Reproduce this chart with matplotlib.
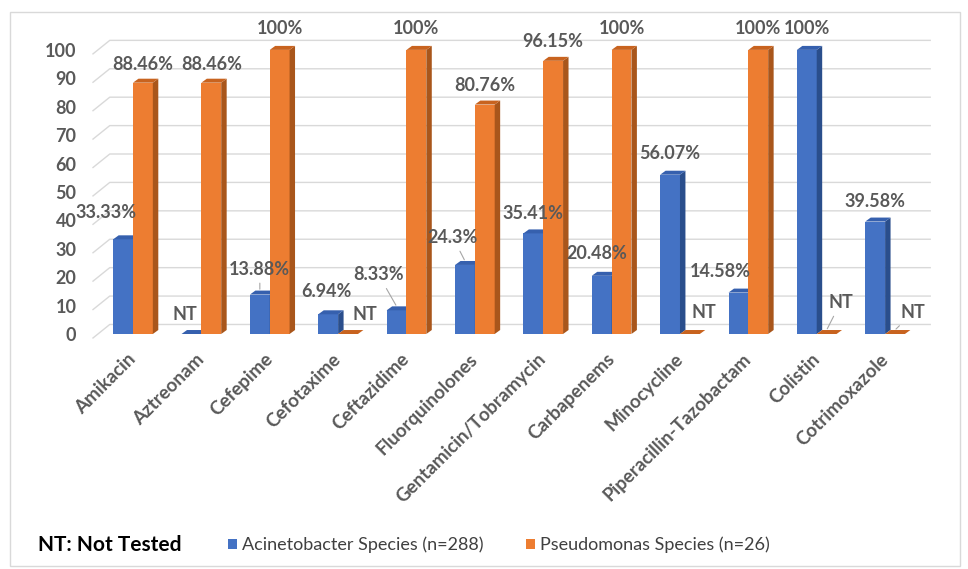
import numpy as np
import matplotlib
matplotlib.use("Agg")
import matplotlib.pyplot as plt
from matplotlib.collections import PolyCollection
from matplotlib.patches import Rectangle
from matplotlib.transforms import ScaledTranslation

plt.rcParams['font.family'] = ['Lato', 'DejaVu Sans']

# data (NaN = not tested)
antibiotics = ["Amikacin", "Aztreonam", "Cefepime", "Cefotaxime", "Ceftazidime",
               "Fluorquinolones", "Gentamicin/Tobramycin", "Carbapenems",
               "Minocycline", "Piperacillin-Tazobactam", "Colistin", "Cotrimoxazole"]
acinetobacter = [33.33, np.nan, 13.88, 6.94, 8.33, 24.3, 35.41, 20.48, 56.07, 14.58, 100, 39.58]
pseudomonas = [88.46, 88.46, 100, np.nan, 100, 80.76, 96.15, 100, np.nan, 100, np.nan, np.nan]
series_names = ["Acinetobacter Species (n=288)", "Pseudomonas Species (n=26)"]
yticks = [0, 10, 20, 30, 40, 50, 60, 70, 80, 90, 100]

# label offsets in pixels (dx, dy) from the top of each bar, and leader lines
blue_off = [(-17, 17), (-7, 10), (0, 16), (-2, 13), (-18, 26), (-12, 18),
            (0, 10), (-5, 13), (0, 12), (-18, 12), (0, 12), (0, 11)]
orange_off = [(0, 9), (0, 9), (0, 12), (17, 10), (0, 12), (0, 10),
              (0, 10), (0, 12), (14, 12), (0, 12), (14, 22), (18, 12)]
blue_lead = [False, False, True, False, True, True, False, False, False, False, False, False]
orange_lead = [False, False, False, False, False, False, False, False, False, False, True, True]

BLUE = ("#4472C4", "#2A4E8C", "#3660AE")
ORANGE = ("#ED7D31", "#A9561B", "#C8631F")
TXT = "#595959"


def draw_bars(ax, xs, vals, w, cols, z, dx, dy):
    h = np.nan_to_num(np.array(vals, dtype=float))
    ax.bar(xs, h, w, color=cols[0], zorder=z, linewidth=0)
    sides, tops = [], []
    for x, v in zip(xs, h):
        r = x + w / 2
        l = x - w / 2
        sides.append([(r, 0), (r + dx, dy), (r + dx, v + dy), (r, v)])
        tops.append([(l, v), (r, v), (r + dx, v + dy), (l + dx, v + dy)])
    ax.add_collection(PolyCollection(sides, facecolors=cols[1], edgecolors='none', zorder=z))
    ax.add_collection(PolyCollection(tops, facecolors=cols[2], edgecolors='none', zorder=z))
    return h


def label_bars(ax, xs, vals, h, offs, leads, dy):
    for x, v, hh, (ox, oy), lead in zip(xs, vals, h, offs, leads):
        txt = "NT" if np.isnan(v) else f"{v:g}%"
        ax.annotate(txt, xy=(x, hh + dy), xytext=(ox, oy), textcoords='offset pixels',
                    ha='center', va='baseline', fontsize=13, fontweight='bold',
                    color=TXT, zorder=10, annotation_clip=False,
                    arrowprops=dict(arrowstyle='-', color='#A6A6A6', lw=0.8,
                                    shrinkA=2, shrinkB=1) if lead else None)


def main():
    fig = plt.figure(figsize=(9.68, 5.69), dpi=100)
    ax = fig.add_axes([93 / 968, 1 - 348.2 / 569, (935 - 93) / 968, (348.2 - 30) / 569])

    x = np.arange(len(antibiotics))
    w = 0.29
    dx, dy = 0.08, 1.4
    ax.set_xlim(-0.585, 11.73)
    ax.set_ylim(-5, 107)

    # back wall gridlines with slanted left part
    for t in yticks:
        ax.plot([-0.585, -0.34, 11.66], [t - 1.4, t + 3.35, t + 3.35],
                color="#D9D9D9", lw=1, zorder=0, clip_on=False)

    hb = draw_bars(ax, x - w / 2, acinetobacter, w, BLUE, 2, dx, dy)
    ho = draw_bars(ax, x + w / 2, pseudomonas, w, ORANGE, 3, dx, dy)
    label_bars(ax, x - w / 2, acinetobacter, hb, blue_off, blue_lead, dy)
    label_bars(ax, x + w / 2, pseudomonas, ho, orange_off, orange_lead, dy)

    ax.set_yticks(yticks)
    ax.set_yticklabels([str(t) for t in yticks], fontsize=13, fontweight='bold', color=TXT)
    for lab in ax.get_yticklabels():
        lab.set_transform(lab.get_transform() + ScaledTranslation(0, -4 / 100, fig.dpi_scale_trans))
    ax.set_xticks(x)
    ax.set_xticklabels(antibiotics, rotation=45, ha='right', va='center',
                       rotation_mode='anchor', fontsize=13.5, fontweight='bold', color=TXT)
    for lab in ax.get_xticklabels():
        lab.set_transform(lab.get_transform() + ScaledTranslation(3 / 100, 0, fig.dpi_scale_trans))
    ax.tick_params(axis='both', length=0)
    ax.tick_params(axis='y', pad=12)
    ax.tick_params(axis='x', pad=6)
    for s in ax.spines.values():
        s.set_visible(False)

    # legend area
    fig.text(38 / 968, 1 - 545 / 569, "NT: Not Tested", fontsize=15, fontweight='bold',
             color='black', va='center', ha='left')
    fig.legend(handles=[ax.containers[0], ax.containers[1]], labels=series_names,
               loc='center left', bbox_to_anchor=(219 / 968, 1 - 545 / 569), ncol=2,
               frameon=False, fontsize=13, labelcolor="#404040", handlelength=0.5,
               handleheight=0.5, handletextpad=0.3, columnspacing=2.3, borderpad=0)

    # outer border
    fig.patches.append(Rectangle((10 / 968, 3 / 569), 950 / 968, 554 / 569,
                                 transform=fig.transFigure, fill=False,
                                 edgecolor="#D9D9D9", lw=1))

    fig.savefig("out.png", dpi=100)
    return 0


if __name__ == '__main__':
    main()
